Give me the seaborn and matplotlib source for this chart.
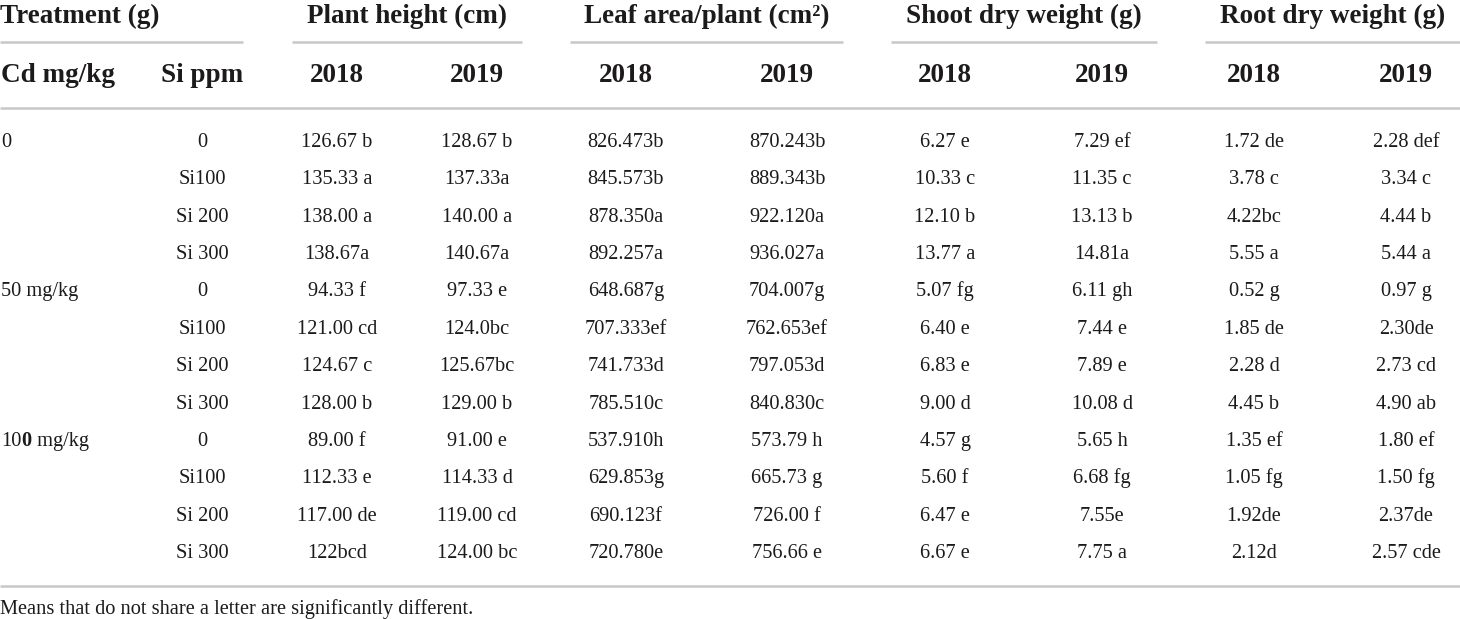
import pandas as pd
import matplotlib
matplotlib.use('Agg')
import matplotlib.pyplot as plt
import seaborn as sns

# Datos de la tabla
cd_levels = ['0', '50 mg/kg', '100 mg/kg']
si_levels = ['0', 'Si100', 'Si 200', 'Si 300']
years = ['2018', '2019']
groups = ['Plant height (cm)', 'Leaf area/plant (cm\u00b2)',
          'Shoot dry weight (g)', 'Root dry weight (g)']

plant_2018 = ['126.67 b', '135.33 a', '138.00 a', '138.67a', '94.33 f', '121.00 cd',
              '124.67 c', '128.00 b', '89.00 f', '112.33 e', '117.00 de', '122bcd']
plant_2019 = ['128.67 b', '137.33a', '140.00 a', '140.67a', '97.33 e', '124.0bc',
              '125.67bc', '129.00 b', '91.00 e', '114.33 d', '119.00 cd', '124.00 bc']
leaf_2018 = ['826.473b', '845.573b', '878.350a', '892.257a', '648.687g', '707.333ef',
             '741.733d', '785.510c', '537.910h', '629.853g', '690.123f', '720.780e']
leaf_2019 = ['870.243b', '889.343b', '922.120a', '936.027a', '704.007g', '762.653ef',
             '797.053d', '840.830c', '573.79 h', '665.73 g', '726.00 f', '756.66 e']
shoot_2018 = ['6.27 e', '10.33 c', '12.10 b', '13.77 a', '5.07 fg', '6.40 e',
              '6.83 e', '9.00 d', '4.57 g', '5.60 f', '6.47 e', '6.67 e']
shoot_2019 = ['7.29 ef', '11.35 c', '13.13 b', '14.81a', '6.11 gh', '7.44 e',
              '7.89 e', '10.08 d', '5.65 h', '6.68 fg', '7.55e', '7.75 a']
root_2018 = ['1.72 de', '3.78 c', '4.22bc', '5.55 a', '0.52 g', '1.85 de',
             '2.28 d', '4.45 b', '1.35 ef', '1.05 fg', '1.92de', '2.12d']
root_2019 = ['2.28 def', '3.34 c', '4.44 b', '5.44 a', '0.97 g', '2.30de',
             '2.73 cd', '4.90 ab', '1.80 ef', '1.50 fg', '2.37de', '2.57 cde']

footnote = 'Means that do not share a letter are significantly different.'

df = pd.DataFrame({
    'Cd': [c if i == 0 else '' for c in cd_levels for i in range(len(si_levels))],
    'Si': si_levels * len(cd_levels),
    'plant_2018': plant_2018, 'plant_2019': plant_2019,
    'leaf_2018': leaf_2018, 'leaf_2019': leaf_2019,
    'shoot_2018': shoot_2018, 'shoot_2019': shoot_2019,
    'root_2018': root_2018, 'root_2019': root_2019,
})

sns.set_theme(style='white')
plt.rcParams['font.family'] = ['Liberation Serif', 'DejaVu Serif']

W, H = 1460, 619
fig = plt.figure(figsize=(W / 100, H / 100), dpi=100)
ax = fig.add_axes([0, 0, 1, 1])
ax.set_xlim(0, W)
ax.set_ylim(H, 0)
ax.axis('off')

ink = '#1c1a1b'
rule = '#c8c8c8'
fs_head = 19.5
fs_body = 14.7

# posiciones de columnas (centros en pixeles)
value_cols = ['plant_2018', 'plant_2019', 'leaf_2018', 'leaf_2019',
              'shoot_2018', 'shoot_2019', 'root_2018', 'root_2019']
col_x = [337, 477, 626, 787, 945, 1102, 1254, 1406]
spans = [(292, 522), (570, 843), (891, 1157), (1205, 1460)]

# encabezado
ax.text(0, 23, 'Treatment (g)', ha='left', va='baseline', fontsize=fs_head,
        fontweight='bold', color=ink)
ax.plot([0, 243], [42, 42], color=rule, lw=1.8, solid_capstyle='butt')
for g, (x0, x1) in zip(groups, spans):
    ax.text((x0 + x1) / 2, 23, g, ha='center', va='baseline', fontsize=fs_head,
            fontweight='bold', color=ink)
    ax.plot([x0, x1], [42, 42], color=rule, lw=1.8, solid_capstyle='butt')

ax.text(1, 82, 'Cd mg/kg', ha='left', va='baseline', fontsize=fs_head,
        fontweight='bold', color=ink)
ax.text(202, 82, 'Si ppm', ha='center', va='baseline', fontsize=fs_head,
        fontweight='bold', color=ink)
for i, x in enumerate(col_x):
    ax.text(x, 82, years[i % 2], ha='center', va='baseline', fontsize=fs_head,
            fontweight='bold', color=ink)

ax.plot([0, W], [108, 108], color=rule, lw=1.8, solid_capstyle='butt')

# filas de datos
y0, dy = 147, 37.36
for r, row in df.iterrows():
    y = y0 + r * dy
    if row['Cd'] == '100 mg/kg':
        # en el original el segundo 0 aparece en negrita
        t1 = ax.text(1, y, '10', ha='left', va='baseline', fontsize=fs_body, color=ink)
        t2 = ax.annotate('0', xy=(1, 0), xycoords=t1, ha='left', va='bottom',
                         fontsize=fs_body, fontweight='bold', color=ink)
        ax.annotate(' mg/kg', xy=(1, 0), xycoords=t2, ha='left', va='bottom',
                    fontsize=fs_body, color=ink)
    elif row['Cd']:
        ax.text(1, y, row['Cd'], ha='left', va='baseline', fontsize=fs_body, color=ink)
    ax.text(202, y, row['Si'], ha='center', va='baseline', fontsize=fs_body, color=ink)
    for c, x in zip(value_cols, col_x):
        ax.text(x, y, row[c], ha='center', va='baseline', fontsize=fs_body, color=ink)

ax.plot([0, W], [586, 586], color=rule, lw=1.8, solid_capstyle='butt')
ax.text(0, 614, footnote, ha='left', va='baseline', fontsize=fs_body, color=ink)

fig.savefig('out.png', dpi=100, facecolor='white')
